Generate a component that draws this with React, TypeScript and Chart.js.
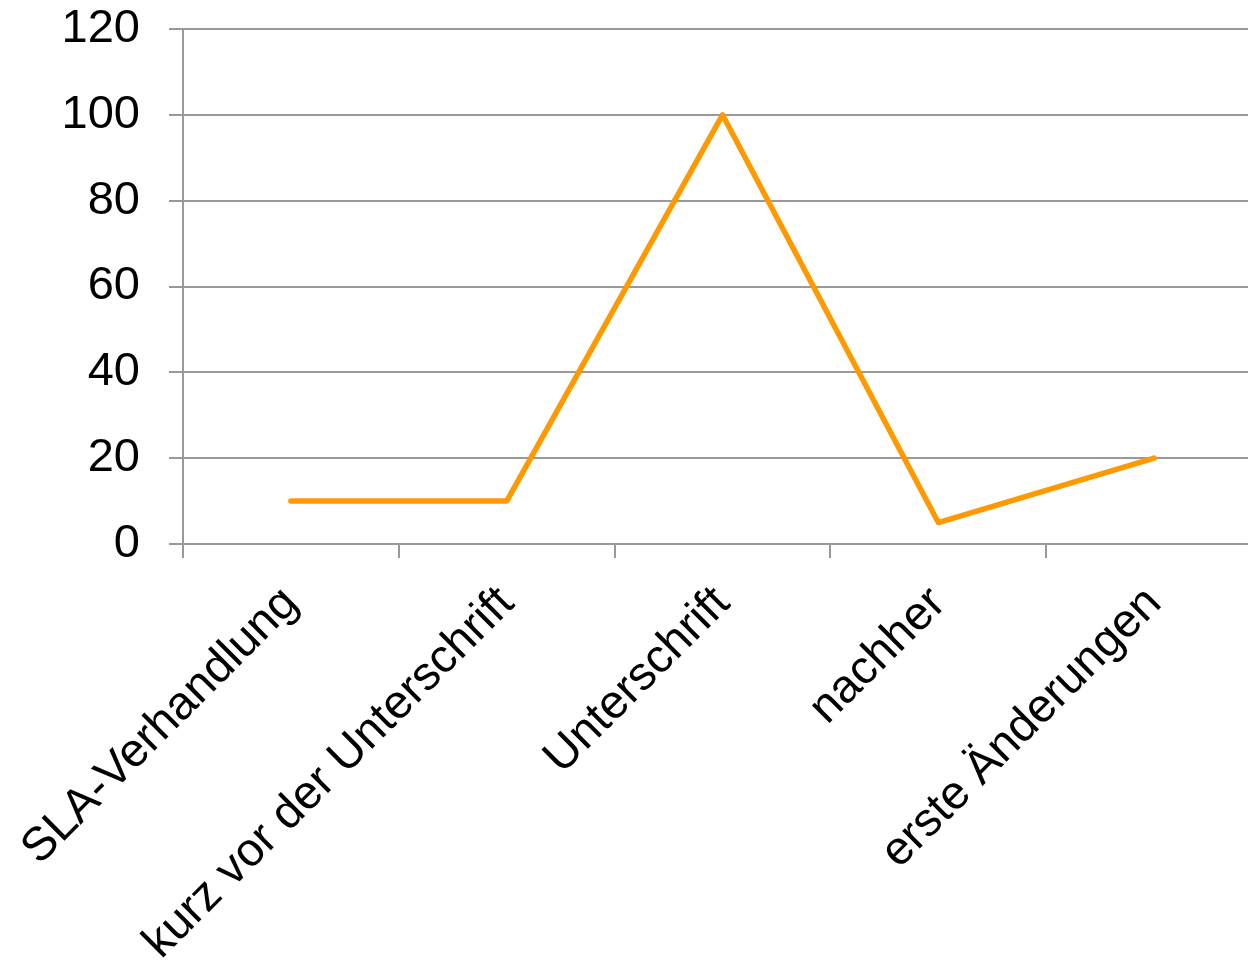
import React, { useEffect, useRef } from "react";
import { Chart, registerables } from "chart.js";

Chart.register(...registerables);

const categories = [
  "SLA-Verhandlung",
  "kurz vor der Unterschrift",
  "Unterschrift",
  "nachher",
  "erste Änderungen",
];
const seriesValues = [10, 10, 100, 5, 20];
const yTicks = [0, 20, 40, 60, 80, 100, 120];

const FONT = "'Liberation Sans', Arial, sans-serif";
const GRID = "#999999";

export default function App() {
  const ref = useRef<HTMLCanvasElement | null>(null);

  useEffect(() => {
    if (!ref.current) return;
    const chart = new Chart(ref.current, {
      type: "line",
      data: {
        labels: categories,
        datasets: [
          {
            data: seriesValues,
            borderColor: "#FF9900",
            backgroundColor: "#FF9900",
            borderWidth: 5.5,
            pointRadius: 0,
            tension: 0,
            borderCapStyle: "round",
            borderJoinStyle: "round",
          },
        ],
      },
      options: {
        animation: false,
        responsive: false,
        layout: { padding: 0 },
        plugins: { legend: { display: false }, tooltip: { enabled: false } },
        scales: {
          x: {
            type: "category",
            offset: true,
            grid: {
              display: true,
              drawOnChartArea: false,
              offset: true,
              tickLength: 14,
              color: GRID,
              lineWidth: 2,
            },
            border: { display: true, color: GRID, width: 2 },
            ticks: {
              color: "#000",
              font: { family: FONT, size: 47 },
              minRotation: 45,
              maxRotation: 45,
              autoSkip: false,
              padding: 18,
            },
            afterFit: (s: any) => {
              s.height = 422;
              s.paddingLeft = 0;
              s.paddingRight = 0;
            },
          },
          y: {
            min: 0,
            max: 120,
            afterBuildTicks: (s: any) => {
              s.ticks = yTicks.map((v) => ({ value: v }));
            },
            grid: {
              color: GRID,
              lineWidth: 2,
              tickLength: 14,
            },
            border: { display: true, color: GRID, width: 2 },
            ticks: {
              color: "#000",
              font: { family: FONT, size: 47 },
              padding: 29,
            },
            afterFit: (s: any) => {
              s.width = 183;
              s.paddingTop = 29;
              s.paddingBottom = 0;
            },
          },
        },
      },
    });
    return () => chart.destroy();
  }, []);

  return (
    <div
      style={{
        position: "fixed",
        left: 0,
        top: 0,
        width: 1248,
        height: 966,
        overflow: "hidden",
        background: "#fff",
      }}
    >
      <canvas ref={ref} width={1262} height={966} style={{ width: 1262, height: 966, display: "block" }} />
    </div>
  );
}
